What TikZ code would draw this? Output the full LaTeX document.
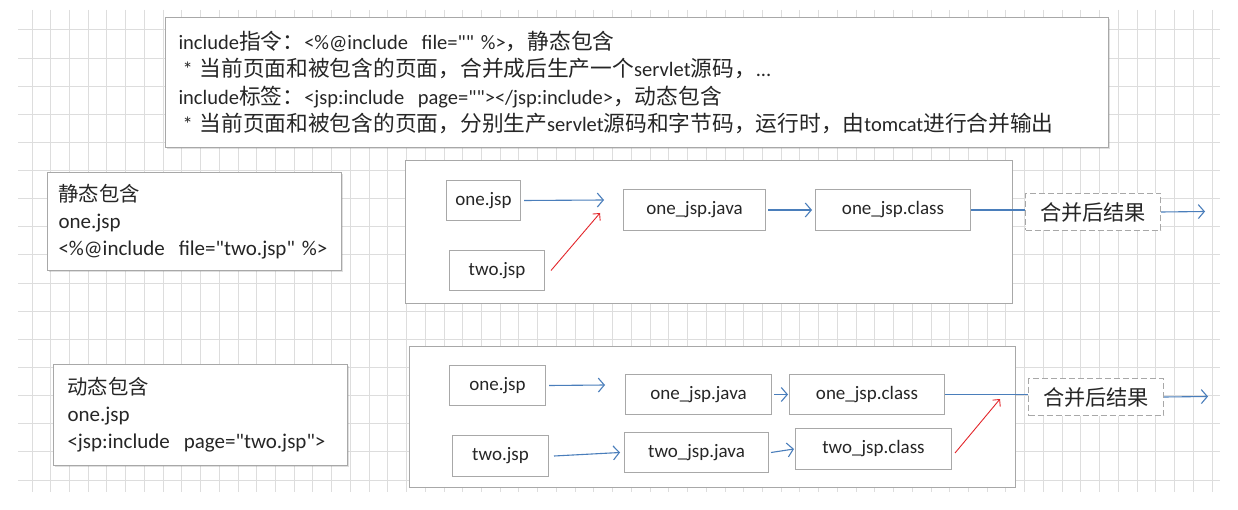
\documentclass[tikz,border=0pt]{standalone}
\usepackage{fontspec}
\newfontfamily\latf{Carlito}
\newfontfamily\zhf{Noto Sans CJK SC}[Scale=1.06]
\newfontfamily\zhs{Noto Sans CJK SC}[Scale=0.97]
\usetikzlibrary{arrows.meta,shadows}
\definecolor{gridc}{HTML}{DDDDDD}
\definecolor{boxc}{HTML}{A8A8A8}
\definecolor{arrb}{HTML}{4A7EBB}
\definecolor{arrr}{HTML}{E3262B}
\definecolor{txt}{HTML}{262626}
\newcommand\zh[1]{{\zhf #1}}
\newcommand\zs[1]{{\zhs #1}}
\begin{document}
\begin{tikzpicture}[x=1pt,y=-1pt,
  panel/.style={draw=boxc, fill=white, line width=1.2pt, anchor=north west, inner sep=0pt},
  textbox/.style={draw=boxc, fill=white, line width=1pt, anchor=north west, align=left,
     text=txt, font=\latf\fontsize{21}{27}\selectfont,
     drop shadow={opacity=0.25, shadow xshift=1.5pt, shadow yshift=-1.5pt}},
  filebox/.style={draw=boxc, fill=white, line width=1pt, anchor=north west, inner sep=0pt,
     text=txt, font=\latf\fontsize{19}{22}\selectfont},
  resbox/.style={draw=boxc, fill=white, line width=1pt, dashed, dash pattern=on 6pt off 3pt,
     anchor=north west, inner sep=0pt, text=txt, font=\fontsize{20}{22}\selectfont},
  barrow/.style={draw=arrb, line width=1.1pt, -{Straight Barb[length=6pt,width=14pt,line width=1.1pt]}},
  bline/.style={draw=arrb, line width=1.1pt},
  rarrow/.style={draw=arrr, line width=0.9pt, -{Straight Barb[length=5pt,width=10pt,line width=0.9pt]}}
]
\useasboundingbox (0,0) rectangle (1238,510);
\fill[white] (0,0) rectangle (1238,510);
% grid
\foreach \k in {0,...,63} {
  \draw[gridc, line width=1pt] ({32+18.73*\k},10) -- ({32+18.73*\k},492);
}
\foreach \k in {0,...,16} {
  \draw[gridc, line width=1pt] (18,{30+28.125*\k}) -- (1220,{30+28.125*\k});
}

% top explanation box
\node[textbox, font=\latf\fontsize{20.5}{27.3}\selectfont, text width=917pt, inner xsep=13pt, inner ysep=0pt, minimum height=130pt] (top) at (165,17)
 {include\zh{指令：}<\%@include\ \ file="" \%>\zh{，静态包含}\\
  \hspace*{4pt}* \zh{当前页面和被包含的页面，合并成后生产一个}servlet\zh{源码，}...\\
  include\zh{标签：}<jsp:include\ \ page=""></jsp:include>\zh{，动态包含}\\
  \hspace*{4pt}* \zh{当前页面和被包含的页面，分别生产}servlet\zh{源码和字节码，运行时，由}tomcat\zh{进行合并输出}};

% left descriptions
\node[textbox, text width=272pt, inner xsep=11pt, inner ysep=0pt, minimum height=98pt] (stat) at (47,172)
 {\zs{静态包含}\\ one.jsp\\ <\%@include\ \ file="two.jsp" \%>};
\node[textbox, text width=266pt, inner xsep=14pt, inner ysep=0pt, minimum height=101pt] (dyn) at (53,364)
 {\zs{动态包含}\\ one.jsp\\ <jsp:include\ \ page="two.jsp">};

% panel 1 (static)
\node[panel, minimum width=607pt, minimum height=143pt] (p1) at (405,160) {};
\node[filebox, minimum width=74pt, minimum height=40pt] (a1) at (446,180) {one.jsp};
\node[filebox, minimum width=95pt, minimum height=40pt] (a2) at (449,250) {two.jsp};
\coordinate (am) at (604,200);
\coordinate (amr) at (600,213);
\node[filebox, minimum width=142pt, minimum height=41pt] (a3) at (623,189) {one\_jsp.java};
\node[filebox, minimum width=155pt, minimum height=41pt] (a4) at (815,189) {one\_jsp.class};
\node[resbox, minimum width=135pt, minimum height=37pt] (a5) at (1025,193) {\zh{合并后结果}};
\coordinate (ae) at (1205,211.5);
\draw[barrow] ([xshift=3pt]a1.east) -- (am);
\draw[rarrow] ([xshift=6pt]a2.east) -- (amr);
\draw[barrow] ([xshift=2pt]a3.east) -- ([xshift=-3pt]a4.west);
\draw[bline] (a4.east) -- (a4.east -| a5.west);
\draw[barrow] (a5.east) -- (ae);

% panel 2 (dynamic)
\node[panel, minimum width=606pt, minimum height=141pt] (p2) at (409,346) {};
\node[filebox, minimum width=96pt, minimum height=40pt] (b1) at (449,365) {one.jsp};
\coordinate (bm) at (605,385);
\node[filebox, minimum width=146pt, minimum height=40pt] (b2) at (625,374) {one\_jsp.java};
\node[filebox, minimum width=155pt, minimum height=40pt] (b3) at (789,374) {one\_jsp.class};
\node[filebox, minimum width=96pt, minimum height=41pt] (c1) at (452,435) {two.jsp};
\node[filebox, minimum width=144pt, minimum height=40pt] (c2) at (624,432) {two\_jsp.java};
\node[filebox, minimum width=156pt, minimum height=41pt] (c3) at (795,428) {two\_jsp.class};
\node[resbox, minimum width=135pt, minimum height=37pt] (b4) at (1028,378) {\zh{合并后结果}};
\coordinate (bj) at (1000,399);
\coordinate (be) at (1208,396.5);
\draw[barrow] ([xshift=3pt]b1.east) -- (bm);
\draw[barrow] ([xshift=2pt]b2.east) -- ([xshift=-1pt]b3.west);
\draw[bline] (b3.east) -- (b3.east -| b4.west);
\draw[barrow] (b4.east) -- (be);
\draw[barrow] ([xshift=5pt]c1.east) -- ([xshift=-4pt]c2.west);
\draw[barrow] ([xshift=2pt]c2.east) -- ([xshift=-1pt]c3.west);
\draw[rarrow] ([xshift=3pt,yshift=-4pt]c3.east) -- (bj);
\end{tikzpicture}
\end{document}
